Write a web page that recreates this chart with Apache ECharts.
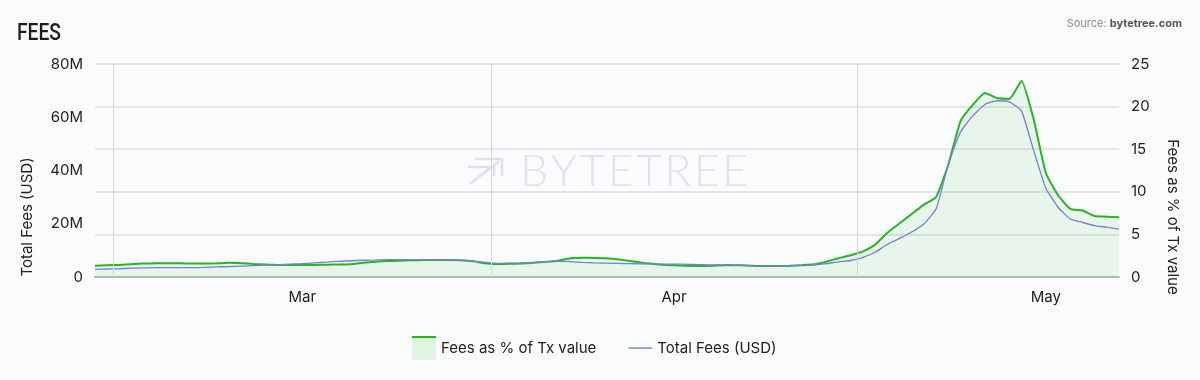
<!DOCTYPE html>
<html>
<head>
<meta charset="utf-8">
<script src="https://cdn.jsdelivr.net/npm/echarts@6.0.0/dist/echarts.min.js"></script>
<style>
  html, body { margin: 0; padding: 0; background: #fafbfd; }
  #chart { width: 1200px; height: 380px; }
</style>
</head>
<body>
<div id="chart"></div>
<script>
// ---- Data ----
const dates = [
  '2021-02-27','2021-02-28',
  '2021-03-01','2021-03-02','2021-03-03','2021-03-04','2021-03-05','2021-03-06','2021-03-07','2021-03-08','2021-03-09','2021-03-10',
  '2021-03-11','2021-03-12','2021-03-13','2021-03-14','2021-03-15','2021-03-16','2021-03-17','2021-03-18','2021-03-19','2021-03-20',
  '2021-03-21','2021-03-22','2021-03-23','2021-03-24','2021-03-25','2021-03-26','2021-03-27','2021-03-28','2021-03-29','2021-03-30','2021-03-31',
  '2021-04-01','2021-04-02','2021-04-03','2021-04-04','2021-04-05','2021-04-06','2021-04-07','2021-04-08','2021-04-09','2021-04-10',
  '2021-04-11','2021-04-12','2021-04-13','2021-04-14','2021-04-15','2021-04-16','2021-04-17','2021-04-18','2021-04-19','2021-04-20',
  '2021-04-21','2021-04-22','2021-04-23','2021-04-24','2021-04-25','2021-04-26','2021-04-27','2021-04-28','2021-04-29','2021-04-30',
  '2021-05-01','2021-05-02','2021-05-03','2021-05-04','2021-05-05','2021-05-06','2021-05-07','2021-05-08','2021-05-09','2021-05-10',
  '2021-05-11','2021-05-12','2021-05-13','2021-05-14','2021-05-15','2021-05-16','2021-05-17','2021-05-18','2021-05-19','2021-05-20',
  '2021-05-21','2021-05-22'
];

// Fees as % of Tx value (right axis)
const feesPct = [
  1.33, 1.38,
  1.42, 1.50, 1.58, 1.60, 1.61, 1.60, 1.58, 1.58, 1.60, 1.66,
  1.62, 1.52, 1.47, 1.42, 1.41, 1.40, 1.41, 1.44, 1.47, 1.50,
  1.68, 1.80, 1.87, 1.91, 1.96, 2.00, 2.00, 1.99, 1.97, 1.85, 1.62,
  1.52, 1.55, 1.58, 1.66, 1.78, 1.91, 2.20, 2.27, 2.24, 2.20,
  2.05, 1.85, 1.65, 1.50, 1.40, 1.34, 1.30, 1.30, 1.34, 1.40,
  1.37, 1.32, 1.29, 1.29, 1.32, 1.40, 1.50, 1.80, 2.20, 2.55,
  3.0, 3.8, 5.2, 6.3, 7.4, 8.5, 9.4, 13.2, 18.3, 20.2,
  21.6, 21.0, 20.9, 23.0, 18.5, 12.2, 9.6, 8.0, 7.8, 7.15,
  7.08, 7.0
];

// Total Fees (USD), in millions (left axis)
const totalFeesM = [
  2.9, 3.0,
  3.1, 3.3, 3.4, 3.5, 3.5, 3.5, 3.5, 3.6, 3.8, 3.9,
  4.1, 4.3, 4.5, 4.6, 4.8, 5.0, 5.3, 5.6, 5.9, 6.1,
  6.3, 6.4, 6.5, 6.5, 6.5, 6.5, 6.5, 6.4, 6.3, 6.0, 5.5,
  5.1, 5.2, 5.3, 5.5, 5.7, 5.9, 5.8, 5.5, 5.3, 5.2,
  5.1, 5.0, 4.9, 4.9, 4.8, 4.8, 4.7, 4.6, 4.5, 4.5,
  4.4, 4.2, 4.1, 4.1, 4.2, 4.3, 4.5, 5.0, 5.7, 6.2,
  7.4, 9.3, 12.3, 14.5, 16.9, 19.9, 25.6, 42.4, 54.5, 60.5,
  64.8, 66.2, 65.8, 62.4, 47.5, 33.3, 26.2, 21.8, 20.5, 19.3,
  18.7, 18.0
];

const monthNames = ['Jan','Feb','Mar','Apr','May','Jun','Jul','Aug','Sep','Oct','Nov','Dec'];
const monthLabelAt = ['2021-03-16 12:00', '2021-04-16 00:00', '2021-05-16 12:00'];
const monthStarts = ['2021-03-01 00:00', '2021-04-01 00:00', '2021-05-01 00:00'];
const xRange = ['2021-02-27 12:00', '2021-05-22 12:00'];
const leftTicks = { min: 0, max: 80, interval: 20 };
const rightTicks = { min: 0, max: 25, interval: 5 };

// ---- helpers ----
function ts(s) {
  const parts = s.split(' ');
  const d = parts[0].split('-').map(Number);
  const t = (parts[1] || '00:00').split(':').map(Number);
  return new Date(d[0], d[1] - 1, d[2], t[0], t[1]).getTime();
}
function svgIcon(svg) {
  return 'image://data:image/svg+xml;charset=utf-8,' + encodeURIComponent(svg);
}

const GREEN = '#27b427';
const GREEN_FILL = 'rgba(39,180,39,0.12)';
const BLUE = '#7880d2';
const FONT = 'Inter, "Noto Sans", "Liberation Sans", sans-serif';

const greenSeries = feesPct.map((v, i) => [ts(dates[i] + ' 12:00'), v]);
const blueSeries = totalFeesM.map((v, i) => [ts(dates[i] + ' 12:00'), v]);

const greenIcon = svgIcon("<svg xmlns='http://www.w3.org/2000/svg' width='24' height='24'><rect x='0' y='0' width='24' height='24' fill='#e1f4e2'/><rect x='0' y='0' width='24' height='2' fill='" + GREEN + "'/></svg>");
const blueIcon = svgIcon("<svg xmlns='http://www.w3.org/2000/svg' width='24' height='24'><rect x='0' y='11.4' width='24' height='1.4' fill='" + BLUE + "'/></svg>");

const chart = echarts.init(document.getElementById('chart'), null, { renderer: 'canvas' });

chart.setOption({
  backgroundColor: '#fafbfd',
  animation: false,
  textStyle: { fontFamily: FONT },
  grid: { left: 95, right: 81, top: 64, bottom: 103, containLabel: false },
  graphic: [
    {
      type: 'text', x: 17, y: 33.5, scaleX: 0.8, z: 10,
      style: { text: 'FEES', fill: '#1c1c1c', font: '500 24px Roboto, "Liberation Sans", sans-serif', align: 'left', verticalAlign: 'middle', textAlign: 'left', textVerticalAlign: 'middle' }
    },
    {
      type: 'text', x: 1182, y: 24, z: 10,
      style: {
        text: '{a|Source: }{b|bytetree.com}',
        align: 'right', verticalAlign: 'middle', textAlign: 'right', textVerticalAlign: 'middle',
        rich: {
          a: { fontSize: 11, fill: '#8a8a8a', color: '#8a8a8a', fontFamily: FONT },
          b: { fontSize: 11, fill: '#555', color: '#555', fontWeight: 'bold', fontFamily: FONT }
        }
      }
    },
    {
      type: 'text', x: 634, y: 172, z: 0, silent: true,
      style: { text: 'B\u200AY\u200AT\u200AE\u200AT\u200AR\u200AE\u200AE', fill: '#e2e3e6', font: '300 44px Lato, Inter, sans-serif', align: 'center', verticalAlign: 'middle', textAlign: 'center', textVerticalAlign: 'middle' }
    },
    {
      type: 'group', z: 0, silent: true,
      children: [
        { type: 'polyline', shape: { points: [[475, 159], [502, 159], [502, 176]] }, style: { stroke: '#e0e1e4', lineWidth: 2.5, fill: null } },
        { type: 'polyline', shape: { points: [[468, 167], [494, 167], [494, 176]] }, style: { stroke: '#e0e1e4', lineWidth: 2.5, fill: null } },
        { type: 'line', shape: { x1: 470, y1: 184, x2: 499, y2: 161 }, style: { stroke: '#e0e1e4', lineWidth: 2.5 } }
      ]
    }
  ],
  legend: {
    left: 407, top: 331,
    itemWidth: 24, itemHeight: 24, itemGap: 32,
    selectedMode: false,
    textStyle: { fontSize: 15, color: '#222', fontFamily: FONT },
    data: [
      { name: 'Fees as % of Tx value', icon: greenIcon },
      { name: 'Total Fees (USD)', icon: blueIcon }
    ]
  },
  xAxis: {
    type: 'value',
    min: ts(xRange[0]),
    max: ts(xRange[1]),
    axisLine: { show: true, onZero: false, lineStyle: { color: '#b6bab3', width: 2 } },
    axisTick: { show: false },
    splitLine: { show: false },
    axisLabel: {
      customValues: monthLabelAt.map(ts),
      formatter: function (v) { return monthNames[new Date(v).getMonth()]; },
      fontSize: 15, color: '#222', margin: 13, fontFamily: FONT,
      hideOverlap: false
    }
  },
  yAxis: [
    {
      type: 'value',
      min: leftTicks.min, max: leftTicks.max, interval: leftTicks.interval,
      position: 'left',
      name: 'Total Fees (USD)',
      nameLocation: 'middle',
      nameRotate: 90,
      nameGap: 60,
      nameTextStyle: { fontSize: 15, color: '#222', fontFamily: FONT, padding: [0, 93, 0, 0] },
      axisLine: { show: false }, axisTick: { show: false },
      splitLine: { show: false },
      axisLabel: {
        fontSize: 15, color: '#222', margin: 12, fontFamily: FONT,
        formatter: function (v) { return v === 0 ? '0' : v + 'M'; }
      }
    },
    {
      type: 'value',
      min: rightTicks.min, max: rightTicks.max, interval: rightTicks.interval,
      position: 'right',
      name: 'Fees as % of Tx value',
      nameLocation: 'middle',
      nameRotate: -90,
      nameGap: 46,
      nameTextStyle: { fontSize: 15, color: '#222', fontFamily: FONT, padding: [0, 0, 0, 93] },
      axisLine: { show: false }, axisTick: { show: false },
      splitLine: { show: true, lineStyle: { color: '#dedede', width: 1.5 } },
      axisLabel: { fontSize: 15, color: '#222', margin: 12, fontFamily: FONT }
    }
  ],
  series: [
    {
      name: 'Fees as % of Tx value',
      type: 'line',
      yAxisIndex: 1,
      data: greenSeries,
      symbol: 'none',
      showSymbol: false,
      smooth: 0.15,
      z: 2,
      lineStyle: { color: GREEN, width: 2 },
      itemStyle: { color: GREEN },
      areaStyle: { color: GREEN_FILL },
      emphasis: { disabled: true },
      markLine: {
        silent: true,
        symbol: ['none', 'none'],
        label: { show: false },
        lineStyle: { color: '#d4d6d8', width: 1, type: 'solid' },
        emphasis: { disabled: true },
        data: monthStarts.map(s => ({ xAxis: ts(s) }))
      }
    },
    {
      name: 'Total Fees (USD)',
      type: 'line',
      yAxisIndex: 0,
      data: blueSeries,
      symbol: 'none',
      showSymbol: false,
      smooth: 0.15,
      z: 3,
      lineStyle: { color: BLUE, width: 1.3 },
      itemStyle: { color: BLUE },
      emphasis: { disabled: true }
    }
  ]
});
</script>
</body>
</html>
